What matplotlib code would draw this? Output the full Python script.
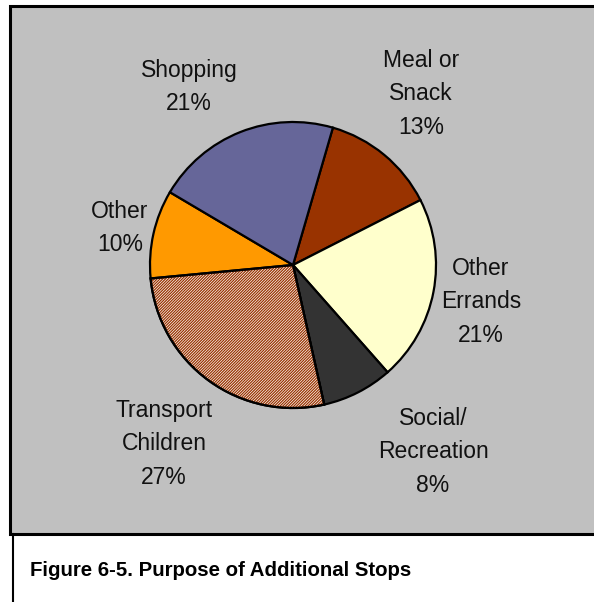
import matplotlib.pyplot as plt
from matplotlib.patches import Rectangle, Wedge

# figure size in pixels
W, H = 594, 602

# -----------------------------
# Data (clockwise from Meal or Snack)
# -----------------------------
categories = ["Meal or\nSnack", "Other\nErrands", "Social/\nRecreation",
              "Transport\nChildren", "Other", "Shopping"]
shares = [13, 21, 8, 27, 10, 21]
colors = ["#993300", "#FFFFCC", "#333333", "#FFFFFF", "#FF9900", "#666699"]

# label centres (pixels from top-left)
label_pos = [(421, 94), (481, 302), (433, 452), (164, 444), (120, 228), (189, 87)]

plt.rcParams["font.family"] = ["Liberation Sans", "DejaVu Sans"]
plt.rcParams["hatch.linewidth"] = 0.9

fig = plt.figure(figsize=(W / 100, H / 100), dpi=100)
ax = fig.add_axes([0, 0, 1, 1])

# gray chart area with border
ax.add_patch(Rectangle((10, H - 534), W + 20, 528, facecolor="#C0C0C0",
                       edgecolor="black", lw=2.2, zorder=0))
# caption frame line
ax.plot([12.5, 12.5], [H - 534, -5], color="black", lw=1.5, zorder=0)

wedges, _ = ax.pie(shares, colors=colors, startangle=90 - 16.2, counterclock=False,
                   center=(293, H - 265), radius=143, frame=True,
                   wedgeprops=dict(edgecolor="black", linewidth=1.6))

# hatched slice (Transport Children)
w = wedges[3]
ax.add_patch(Wedge(w.center, w.r, w.theta1, w.theta2, facecolor="none",
                   edgecolor="#993300", lw=0, hatch="/" * 12, zorder=1.5))
ax.add_patch(Wedge(w.center, w.r, w.theta1, w.theta2, facecolor="none",
                   edgecolor="black", lw=1.6, zorder=2))

for cat, val, (x, y) in zip(categories, shares, label_pos):
    ax.text(x, H - y, f"{cat}\n{val}%", ha="center", va="center",
            fontsize=16.5, linespacing=1.6, color="#111111")

ax.text(30, H - 570, "Figure 6-5. Purpose of Additional Stops", ha="left", va="center",
        fontsize=14.7, fontweight="bold", color="black")

ax.set_xlim(0, W)
ax.set_ylim(0, H)
ax.set_aspect("equal")
ax.axis("off")

fig.savefig("out.png", dpi=100)
